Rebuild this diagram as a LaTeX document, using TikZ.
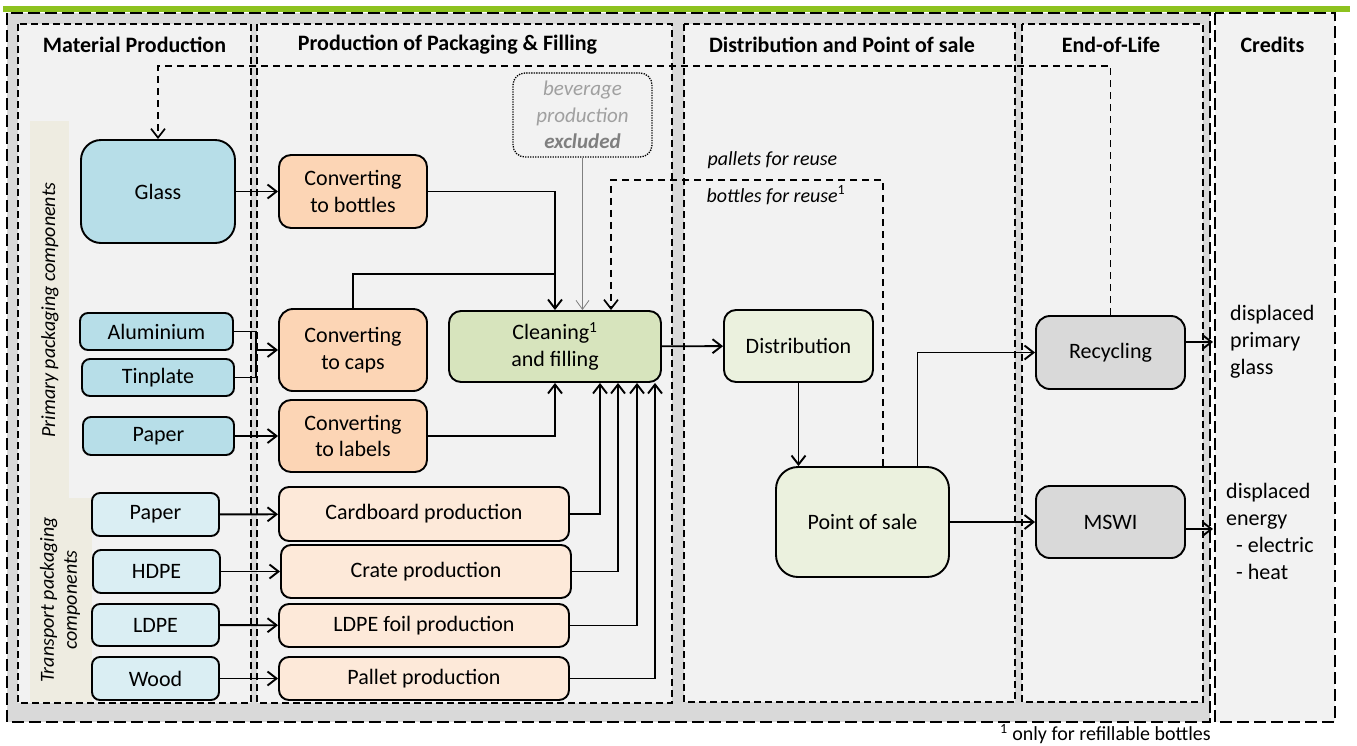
\documentclass[tikz,border=0pt]{standalone}
\usepackage{fontspec}
\setmainfont{Carlito}
\usetikzlibrary{arrows.meta}
\definecolor{cPanel}{HTML}{F2F2F2}
\definecolor{cOuter}{HTML}{D9D9D9}
\definecolor{cBlue}{HTML}{B7DEE8}
\definecolor{cBlueL}{HTML}{DAEEF3}
\definecolor{cPeach}{HTML}{FCD5B5}
\definecolor{cPeachL}{HTML}{FDE9D9}
\definecolor{cGreen}{HTML}{D7E4BD}
\definecolor{cGreenL}{HTML}{EBF1DE}
\definecolor{cGrey}{HTML}{D9D9D9}
\definecolor{cBeige}{HTML}{EEECE1}
\definecolor{cBar}{HTML}{8DC21F}
\definecolor{cTxtGrey}{HTML}{A0A0A0}
\definecolor{cTxtGreyD}{HTML}{7F7F7F}
\begin{document}
\begin{tikzpicture}[x=1pt,y=-1pt,
  font=\fontsize{22}{26.8}\selectfont,
  box/.style={draw=black, line width=1.9pt, align=center, inner sep=0pt, rounded corners=#1},
  box/.default=10pt,
  panel/.style={draw=black, fill=cPanel, line width=1.5pt, dash pattern=on 7pt off 4pt},
  outerbox/.style={draw=black, line width=1.9pt, dash pattern=on 12pt off 5pt},
  conn/.style={line width=1.9pt},
  arr/.style={line width=1.9pt, -{Straight Barb[length=9pt,width=14pt]}},
  looparr/.style={line width=1.7pt, dash pattern=on 7pt off 5pt, -{Straight Barb[length=9pt,width=14pt]}},
  thinarr/.style={line width=0.7pt, draw=gray, -{Straight Barb[length=9pt,width=13pt,line width=0.8pt]}},
  hd/.style={font=\fontsize{22}{26}\selectfont\bfseries},
  lbl/.style={font=\fontsize{20}{24}\selectfont\itshape},
  side/.style={font=\fontsize{20}{23}\selectfont\itshape, rotate=90, align=center}
]
\useasboundingbox (0,0) rectangle (1357,745);
\fill[white] (0,0) rectangle (1357,745);

% outer frames
\draw[outerbox, fill=cOuter] (7,13) rectangle (1210,722);
\draw[outerbox, fill=cPanel] (1215,13) rectangle (1335,722);
\fill[cBar] (3,6) rectangle (1350,12);

% panels
\draw[panel] (18,24) rectangle (251,703);
\draw[panel] (257,24) rectangle (672,703);
\draw[panel] (684,24) rectangle (1015,702);
\draw[panel] (1022,24) rectangle (1203,702);

% side strips
\fill[cBeige] (30,121) rectangle (69,498);
\fill[cBeige] (30,498) rectangle (92,702);
\node[side] (sideP) at (50,310) {Primary packaging components};
\node[side] (sideT) at (60,600) {Transport packaging\\components};

% headings
\node[hd] (h1) at (134.5,45) {Material Production};
\node[hd] (h2) at (447.5,45) {Production of Packaging \& Filling};
\node[hd] (h3) at (842,45) {Distribution and Point of sale};
\node[hd] (h4) at (1111,45) {End-of-Life};
\node[hd] (h5) at (1272.5,45) {Credits};

% material nodes
\node[box=20pt, fill=cBlue, minimum width=154pt, minimum height=103pt] (glass) at (158,191.5) {Glass};
\node[box=8pt, fill=cBlue, minimum width=153pt, minimum height=37pt] (alu) at (156.5,331.5) {Aluminium};
\node[box=8pt, fill=cBlue, minimum width=152pt, minimum height=37pt] (tin) at (158,377.5) {Tinplate};
\node[box=8pt, fill=cBlue, minimum width=151pt, minimum height=38pt] (paperA) at (158.5,436) {Paper};
\node[box=8pt, fill=cBlueL, minimum width=127pt, minimum height=43pt] (paperB) at (155.5,514.5) {Paper};
\node[box=8pt, fill=cBlueL, minimum width=127pt, minimum height=43pt] (hdpe) at (156.5,571.5) {HDPE};
\node[box=8pt, fill=cBlueL, minimum width=127pt, minimum height=42pt] (ldpe) at (155.5,625) {LDPE};
\node[box=8pt, fill=cBlueL, minimum width=127pt, minimum height=43pt] (wood) at (155.5,678.5) {Wood};

% production nodes
\node[box=12pt, fill=cPeach, minimum width=148pt, minimum height=73pt] (convb) at (353,191.5) {Converting\\to bottles};
\node[box=14pt, fill=cPeach, minimum width=148pt, minimum height=82pt] (caps) at (353,350) {Converting\\to caps};
\node[box=12pt, fill=cPeach, minimum width=148pt, minimum height=72pt] (labels) at (353,436) {Converting\\to labels};
\node[box=10pt, fill=cPeachL, minimum width=290pt, minimum height=54pt] (card) at (424,514) {Cardboard production};
\node[box=10pt, fill=cPeachL, minimum width=290pt, minimum height=53pt] (crate) at (426,571.5) {Crate production};
\node[box=10pt, fill=cPeachL, minimum width=290pt, minimum height=43pt] (foil) at (424,625.5) {LDPE foil production};
\node[box=10pt, fill=cPeachL, minimum width=290pt, minimum height=43pt] (pallet) at (424,678.5) {Pallet production};
\node[box=12pt, fill=cGreen, minimum width=212pt, minimum height=71pt] (clean) at (555,346.5) {Cleaning\textsuperscript{1}\\and filling};

% beverage box
\node[draw=black, line width=1.3pt, dash pattern=on 1.3pt off 1.2pt, rounded corners=12pt, fill=cPanel,
      minimum width=139pt, minimum height=84pt, inner sep=0pt, align=center,
      font=\fontsize{21}{26.5}\selectfont\itshape, text=cTxtGrey] (bev) at (582.5,115)
      {beverage\\production\\\textcolor{cTxtGreyD}{\bfseries excluded}};

% distribution / EoL nodes
\node[box=12pt, fill=cGreenL, minimum width=149pt, minimum height=72pt] (dist) at (798.5,346) {Distribution};
\node[box=22pt, fill=cGreenL, minimum width=173pt, minimum height=110pt] (pos) at (862.5,522) {Point of sale};
\node[box=14pt, fill=cGrey, minimum width=149pt, minimum height=73pt] (recyc) at (1110.5,352.5) {Recycling};
\node[box=14pt, fill=cGrey, minimum width=149pt, minimum height=72pt] (mswi) at (1110.5,522) {MSWI};

% labels
\node[lbl, anchor=west] (pal) at (704,160) {pallets for reuse};
\node[lbl, anchor=west] (bot) at (703,195) {bottles for reuse\textsuperscript{\upshape 1}};

% credits text
\node[anchor=west, align=left, inner sep=0pt] (cg) at (1230,342) {displaced\\primary\\glass};
\node[anchor=west, align=left, inner sep=0pt, font=\fontsize{22}{27}\selectfont] (ce) at (1226,531) {displaced\\energy\\\hspace*{10pt}- electric\\\hspace*{10pt}- heat};

% footnote
\node[anchor=east, inner sep=0pt, font=\fontsize{20}{24}\selectfont] (fn) at (1211,734) {\textsuperscript{1} only for refillable bottles};

% coordinates
\coordinate (jc) at (555,274);
\coordinate (ja) at (256,350);
\coordinate (lp) at (158,66);
\coordinate (bl) at (611,180);
\coordinate (cr1) at (1213,342);
\coordinate (cr2) at (1213,529);

% connectors
\draw[arr] (glass) -- (convb);
\draw[arr] (convb.east) -| (clean.north);
\draw[conn] (caps.north) |- (jc);
\draw[conn] (alu.east) -| (ja);
\draw[conn] (tin.east) -| (ja);
\draw[arr] (ja) -- (caps.west);
\draw[arr] (paperA) -- (labels);
\draw[arr] (labels.east) -| (clean.south);
\draw[arr] (paperB) -- (card);
\draw[arr] (hdpe.east) -- (hdpe.east -| crate.west);
\draw[arr] (ldpe) -- (foil);
\draw[arr] (wood) -- (pallet);
\draw[arr] (card.east) -| ([xshift=45pt]clean.south);
\draw[arr] (crate.east) -| ([xshift=63pt]clean.south);
\draw[arr] (foil.east) -| ([xshift=82pt]clean.south);
\draw[arr] (pallet.east) -| ([xshift=100pt]clean.south);
\draw[thinarr] (bev.south) -- (bev.south |- clean.north);
\draw[arr] (clean) -- (dist);
\draw[arr] (dist.south) -- (dist.south |- pos.north);
\draw[arr] ([xshift=55pt]pos.north) |- (recyc.west);
\draw[arr] (pos) -- (mswi);
\draw[arr] (recyc.east |- cr1) -- (cr1);
\draw[arr] (mswi.east |- cr2) -- (cr2);
\draw[looparr] (recyc.north) |- (lp) -- (glass.north);
\draw[looparr] ([xshift=20.5pt]pos.north) |- (bl) -- (clean.north -| bl);
\end{tikzpicture}
\end{document}
